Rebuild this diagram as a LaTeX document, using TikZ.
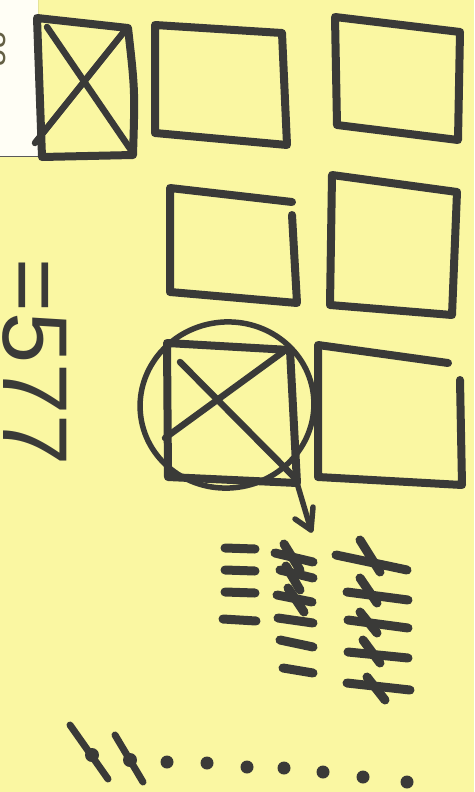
\documentclass[tikz,border=0pt]{standalone}
\usepackage{fontspec}
\setmainfont{Liberation Sans}
\definecolor{notebg}{RGB}{250,247,162}
\definecolor{ink}{RGB}{58,58,56}
\begin{document}
\begin{tikzpicture}[x=1pt,y=-1pt,
  marker/.style={draw=ink,line width=8pt,line cap=round,line join=round},
  thinmarker/.style={draw=ink,line width=5.5pt,line cap=round,line join=round},
  tally/.style={draw=ink,line width=9pt,line cap=round},
  dotmark/.style={fill=ink}]
\fill[notebg] (0,0) rectangle (474,792);
\useasboundingbox (0,0) rectangle (474,792);
% white corner of another note
\begin{scope}
\clip (0,0) rectangle (38,156);
\fill[white!96!yellow] (-5,-5) rectangle (38,156);
\draw[gray!70!black,line width=0.9pt] (38,-5) -- (38,156) -- (-5,156);
\node[rotate=-90,text=black!70!yellow,font=\fontsize{32}{32}\selectfont,inner sep=0pt] (oldtext) at (-5,40) {=33};
\end{scope}
% row 1
\draw[marker] (37,18) -- (128,28) .. controls (135,90) .. (133,155) -- (42,157) -- cycle;
\draw[thinmarker,line width=6.5pt] (47,27) -- (133,153);
\draw[thinmarker,line width=6.5pt] (123,33) -- (35,143);
\draw[marker] (155,25) -- (282,33) -- (287,145) -- (155,133) -- cycle;
\draw[marker] (335,17) -- (460,32) -- (458,140) -- (337,125) -- cycle;
% row 2
\draw[marker] (292,202) -- (170,188) -- (170,292) -- (297,303) -- (292,215);
\draw[marker] (332,175) -- (457,192) -- (452,315) -- (330,305) -- cycle;
% row 3
\draw[thinmarker,rotate around={8:(227,405)}] (227,405) ellipse [x radius=87,y radius=83];
\draw[marker] (167,343) -- (290,350) -- (297,483) -- (168,477) -- cycle;
\draw[thinmarker,line width=6.5pt] (180,362) -- (297,480);
\draw[thinmarker,line width=6.5pt] (283,352) -- (165,438);
\draw[marker] (448,363) -- (318,345) -- (318,477) -- (462,485) -- (460,380);
% arrow
\coordinate (tip) at (311,530);
\draw[thinmarker] (297,483) -- (tip);
\draw[thinmarker] (295,519) -- (tip) -- (313,507);
% = 577
\node[rotate=-90,text=ink,font=\fontsize{92}{92}\selectfont,inner sep=0pt] (num) at (35,362) {=577};
% tallies column A
\draw[tally] (225,548) -- (255,549);
\draw[tally] (225,570) -- (255,571);
\draw[tally] (225,592) -- (255,593);
\draw[tally] (223,619) -- (256,621);
% column B
\draw[tally] (275,553) -- (313,562);
\draw[tally] (280,570) -- (313,578);
\draw[tally] (277,595) -- (312,602);
\draw[tally] (278,618) -- (313,623);
\draw[tally] (280,640) -- (313,647);
\draw[tally] (283,668) -- (313,673);
\draw[tally] (284,544) -- (300,570);
\draw[tally] (286,566) -- (300,590);
\draw[tally] (288,588) -- (304,612);
% column C
\draw[tally] (336,555) -- (407,570);
\draw[tally] (360,540) -- (380,572);
\draw[tally] (347,592) -- (408,600);
\draw[tally] (360,578) -- (377,603);
\draw[tally] (348,620) -- (408,628);
\draw[tally] (360,612) -- (377,633);
\draw[tally] (348,652) -- (408,658);
\draw[tally] (363,640) -- (380,663);
\draw[tally] (347,683) -- (410,690);
\draw[tally] (367,677) -- (385,700);
% bottom slashes and dots
\draw[tally,line width=7pt] (70,725) -- (108,779);
\fill[ink] (92,755) circle (7);
\draw[tally,line width=7pt] (115,735) -- (143,782);
\fill[ink] (130,760) circle (7);
\foreach \px/\py in {167/762,207/763,247/767,284/768,323/772,363/777,407/782}
  \fill[ink] (\px,\py) circle (6.5);
\end{tikzpicture}
\end{document}
